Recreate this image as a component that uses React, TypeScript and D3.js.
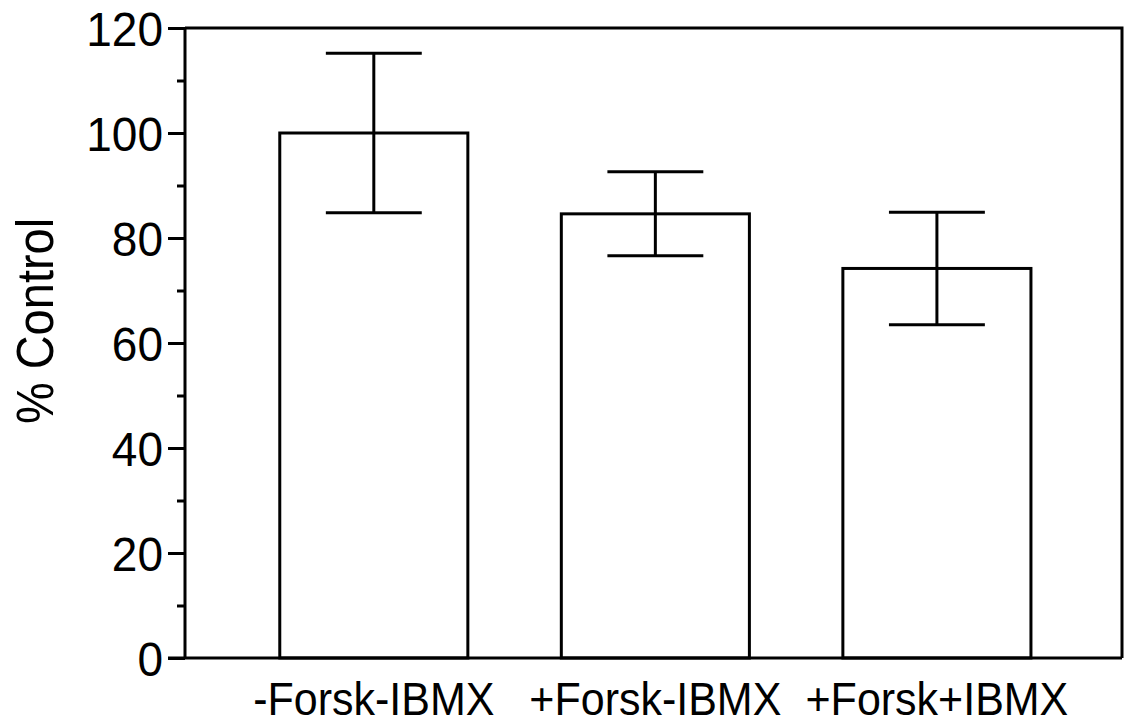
import React, { useEffect, useRef } from "react";
import * as d3 from "d3";

// Treatment groups and their mean response (% of control) with SEM
const categories: string[] = ["-Forsk-IBMX", "+Forsk-IBMX", "+Forsk+IBMX"];
const means: number[] = [100, 84.6, 74.2];
const errors: number[] = [15.2, 8.0, 10.7];
const majorTicks: number[] = [0, 20, 40, 60, 80, 100, 120];
const minorTicks: number[] = [10, 30, 50, 70, 90, 110];

const W = 1128;
const H = 726;
const FONT = "'Liberation Sans', Arial, Helvetica, sans-serif";
// glyphs are drawn slightly taller than wide
const STRETCH = 1.06;
const TITLE_STRETCH = 1.12;

export default function App() {
  const ref = useRef<SVGSVGElement | null>(null);

  useEffect(() => {
    const svg = d3.select(ref.current);
    svg.selectAll("*").remove();

    const left = 185;
    const right = 1122;
    const top = 28;
    const bottom = 658;

    const y = d3.scaleLinear().domain([0, 120]).range([bottom, top]);
    const x = d3
      .scaleBand<string>()
      .domain(categories)
      .range([left, right])
      .paddingInner(0.332)
      .paddingOuter(0.33)
      .align(0.51);

    const g = svg.append("g");
    const sw = 3;

    // frame: top and right edges
    g.append("path")
      .attr("d", `M${left},${top}H${right}V${bottom}`)
      .attr("fill", "none")
      .attr("stroke", "#000")
      .attr("stroke-width", sw);

    // bars
    const bw = x.bandwidth();
    categories.forEach((c, i) => {
      const x0 = x(c)!;
      g.append("rect")
        .attr("x", x0)
        .attr("y", y(means[i]))
        .attr("width", bw)
        .attr("height", y(0) - y(means[i]))
        .attr("fill", "#fff")
        .attr("stroke", "#000")
        .attr("stroke-width", sw);
    });

    // error bars
    const capHalf = bw * 0.255;
    categories.forEach((c, i) => {
      const cx = x(c)! + bw / 2;
      const hi = y(means[i] + errors[i]);
      const lo = y(means[i] - errors[i]);
      g.append("line")
        .attr("x1", cx).attr("x2", cx)
        .attr("y1", hi).attr("y2", lo)
        .attr("stroke", "#000").attr("stroke-width", sw);
      [hi, lo].forEach((yy) => {
        g.append("line")
          .attr("x1", cx - capHalf).attr("x2", cx + capHalf)
          .attr("y1", yy).attr("y2", yy)
          .attr("stroke", "#000").attr("stroke-width", sw);
      });
    });

    // y axis with major and minor ticks
    const yAxis = d3
      .axisLeft(y)
      .tickValues(majorTicks)
      .tickSize(17)
      .tickPadding(5)
      .tickFormat(d3.format("d"));
    const ya = g.append("g").attr("transform", `translate(${left},0)`).call(yAxis);
    ya.select(".domain").attr("stroke-width", sw).attr("d", `M0,${top}V${bottom}`);
    ya.selectAll(".tick line").attr("stroke-width", sw);
    ya.selectAll(".tick text")
      .attr("font-family", FONT)
      .attr("font-size", 46)
      .attr("dy", "0.35em")
      .attr("transform", `scale(1,${STRETCH})`)
      .attr("fill", "#000");

    const yMinor = d3.axisLeft(y).tickValues(minorTicks).tickSize(8).tickFormat(() => "");
    const ym = g.append("g").attr("transform", `translate(${left},0)`).call(yMinor);
    ym.select(".domain").remove();
    ym.selectAll(".tick line").attr("stroke-width", sw);

    // x axis (baseline and category labels)
    const xAxis = d3.axisBottom(x).tickSize(0).tickPadding(23);
    const xa = g.append("g").attr("transform", `translate(0,${bottom})`).call(xAxis);
    xa.select(".domain").attr("stroke-width", sw).attr("d", `M${left - 17},0H${right}`);
    xa.selectAll(".tick text")
      .attr("font-family", FONT)
      .attr("font-size", 43)
      .attr("transform", `scale(1,${STRETCH})`)
      .attr("fill", "#000");

    // y axis title
    g.append("text")
      .attr(
        "transform",
        `translate(53,${(top + bottom) / 2 - 22}) rotate(-90) scale(1,${TITLE_STRETCH})`
      )
      .attr("text-anchor", "middle")
      .attr("font-family", FONT)
      .attr("font-size", 47)
      .attr("fill", "#000")
      .text("% Control");
  }, []);

  return (
    <svg
      ref={ref}
      width={W}
      height={H}
      style={{ position: "absolute", left: 0, top: 0, background: "#fff" }}
    />
  );
}
